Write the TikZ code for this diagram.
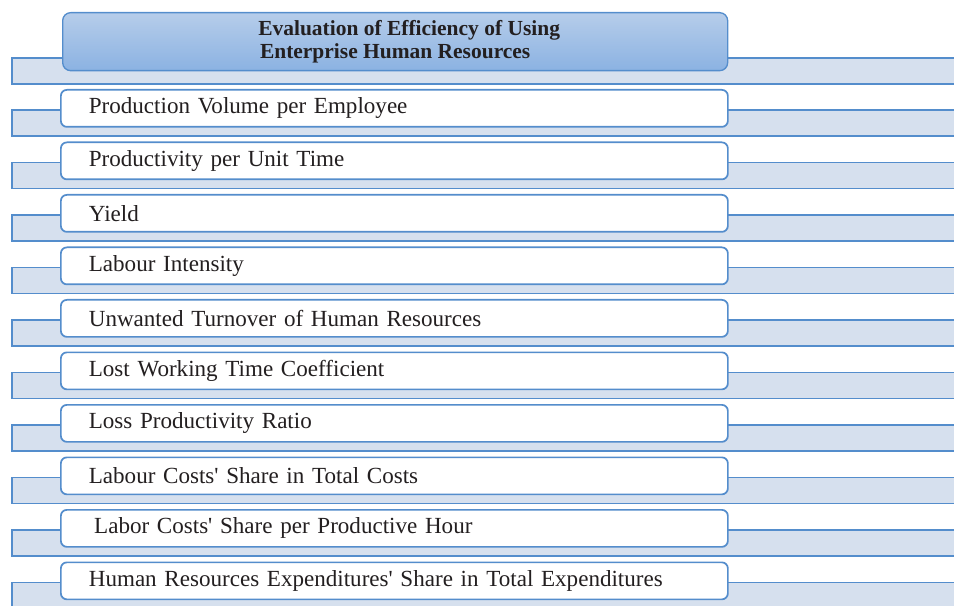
\documentclass[tikz,border=0pt]{standalone}
\usepackage{fontspec}
\setmainfont{Liberation Serif}
\usepackage{xcolor}

\definecolor{lineblue}{RGB}{84,141,204}
\definecolor{bandfill}{RGB}{214,224,238}
\definecolor{headtop}{RGB}{182,205,234}
\definecolor{headbot}{RGB}{139,178,226}
\definecolor{inktext}{RGB}{35,31,32}

\tikzset{
  band/.style={draw=lineblue, fill=bandfill, line width=1.3pt},
  headbox/.style={draw=lineblue, line width=1pt, rounded corners=6pt,
    top color=headtop, bottom color=headbot, anchor=north west,
    minimum width=498.75pt, minimum height=43.5pt, align=center,
    text=inktext, font=\fontsize{16.1pt}{17.3pt}\selectfont\bfseries},
  itembox/.style={draw=lineblue, fill=white, line width=1.3pt, rounded corners=4.5pt,
    anchor=north west, minimum width=500.25pt, minimum height=27.75pt,
    inner xsep=21pt, text width=458.25pt, align=left,
    text=inktext, font=\fontsize{17.3pt}{21pt}\selectfont},
}

\begin{document}
\begin{tikzpicture}[x=0.75pt,y=0.75pt,yscale=-1,xscale=1]
\useasboundingbox (0,0) rectangle (954,606);
\clip (0,0) rectangle (954,606);

%Shape: Rectangle
\draw [band] (12,58) rectangle (970,84);
%Shape: Rectangle
\draw [band] (12,110) rectangle (970,136);
%Shape: Rectangle
\draw [band] (12,162.5) rectangle (970,188.5);
%Shape: Rectangle
\draw [band] (12,215) rectangle (970,241);
%Shape: Rectangle
\draw [band] (12,267.5) rectangle (970,293.5);
%Shape: Rectangle
\draw [band] (12,320) rectangle (970,346);
%Shape: Rectangle
\draw [band] (12,372.5) rectangle (970,398.5);
%Shape: Rectangle
\draw [band] (12,425) rectangle (970,451);
%Shape: Rectangle
\draw [band] (12,477.5) rectangle (970,503.5);
%Shape: Rectangle
\draw [band] (12,530) rectangle (970,556);
%Shape: Rectangle
\draw [band] (12,582.5) rectangle (970,620);

% Text Node
\node [headbox] (head) at (62,12) {\hspace*{21pt}Evaluation of Efficiency of Using\\Enterprise Human Resources};
% Text Node
\node [itembox] (volume) at (60,89) {Production Volume per Employee};
% Text Node
\node [itembox] (unittime) at (60,141.5) {Productivity per Unit Time};
% Text Node
\node [itembox] (yield) at (60,194) {Yield};
% Text Node
\node [itembox] (intensity) at (60,246.5) {Labour Intensity};
% Text Node
\node [itembox] (turnover) at (60,299) {Unwanted Turnover of Human Resources};
% Text Node
\node [itembox] (losttime) at (60,351.5) {Lost Working Time Coefficient};
% Text Node
\node [itembox] (lossratio) at (60,404) {Loss Productivity Ratio};
% Text Node
\node [itembox] (costshare) at (60,456.5) {Labour Costs\textquotesingle{} Share in Total Costs};
% Text Node
\node [itembox] (hourshare) at (60,509) {\hspace*{4pt}Labor Costs\textquotesingle{} Share per Productive Hour};
% Text Node
\node [itembox] (expshare) at (60,561.5) {Human Resources Expenditures\textquotesingle{} Share in Total Expenditures};
\end{tikzpicture}
\end{document}
